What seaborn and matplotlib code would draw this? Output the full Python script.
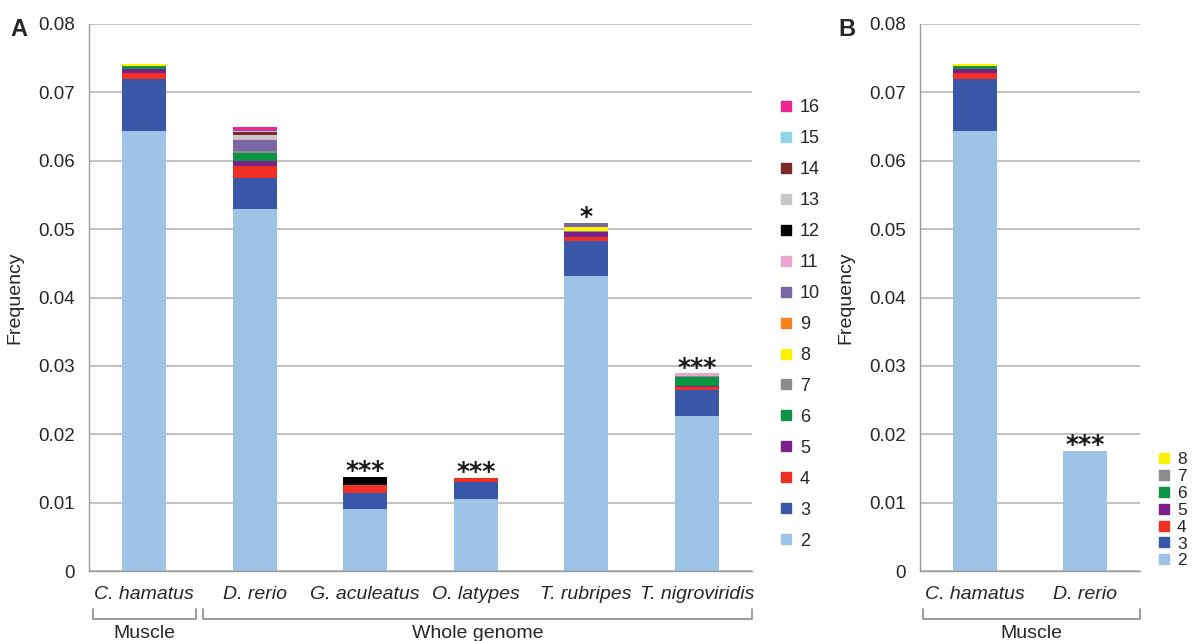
import numpy as np
import pandas as pd
import seaborn as sns
import matplotlib.pyplot as plt
from matplotlib.lines import Line2D
import matplotlib.transforms as mtransforms

# Repeat-length classes (number of repeat units) and their colours
classes = [2, 3, 4, 5, 6, 7, 8, 9, 10, 11, 12, 13, 14, 15, 16]
class_colors = ["#9dc3e6", "#3a56a8", "#ee3124", "#7b1f8a", "#0b9444", "#8c8c8c",
                "#fff200", "#f58220", "#7a67a4", "#e8a6cf", "#000000", "#c8c8c8",
                "#7b2a2a", "#8fd3e8", "#ec268f"]

# Panel A: frequency per class (2..16) for each species
species_a = ["C. hamatus", "D. rerio", "G. aculeatus", "O. latypes",
             "T. rubripes", "T. nigroviridis"]
c_hamatus = [0.0643, 0.0077, 0.0008, 0.0006, 0.0004, 0.0, 0.0004, 0, 0, 0, 0, 0, 0, 0, 0]
d_rerio = [0.0529, 0.0046, 0.0018, 0.0006, 0.0012, 0.0003, 0, 0, 0.0016, 0.0002, 0,
           0.0005, 0.0005, 0.0001, 0.0006]
g_aculeatus = [0.0091, 0.0023, 0.0012, 0, 0, 0, 0, 0, 0, 0, 0.0012, 0, 0, 0, 0]
o_latypes = [0.0105, 0.0025, 0.0006, 0, 0, 0, 0, 0, 0, 0, 0, 0, 0, 0, 0]
t_rubripes = [0.0432, 0.0050, 0.0007, 0.0007, 0, 0.0001, 0.0006, 0, 0.0006, 0, 0, 0, 0, 0, 0]
t_nigroviridis = [0.0227, 0.0038, 0.0004, 0.0001, 0.0013, 0.0002, 0, 0, 0, 0.0004,
                  0, 0, 0, 0, 0]
stars_a = ["", "", "***", "***", "*", "***"]

# Panel B: muscle transcriptomes, classes 2..8
species_b = ["C. hamatus", "D. rerio"]
classes_b = [2, 3, 4, 5, 6, 7, 8]
c_hamatus_muscle = [0.0643, 0.0077, 0.0008, 0.0006, 0.0004, 0.0, 0.0004]
d_rerio_muscle = [0.0175, 0, 0, 0, 0, 0, 0]
stars_b = ["", "***"]

ytick_values = [0, 0.01, 0.02, 0.03, 0.04, 0.05, 0.06, 0.07, 0.08]
ytick_labels = ["0", "0.01", "0.02", "0.03", "0.04", "0.05", "0.06", "0.07", "0.08"]

sns.set_theme(style="white")
plt.rcParams["font.family"] = ["Liberation Sans", "DejaVu Sans"]
TXT = "#262626"


def long_table(species, rows, cls):
    recs = []
    for sp, vals in zip(species, rows):
        cum = np.cumsum(vals)
        for k, c in zip(cls, cum):
            recs.append({"species": sp, "cls": k, "cum": c})
    return pd.DataFrame(recs)


def stacked(ax, df, species, cls, colors):
    # paint tallest cumulative layer first so lower classes overlay it
    for k, col in reversed(list(zip(cls, colors))):
        sub = df[df["cls"] == k]
        sns.barplot(data=sub, x="species", y="cum", order=species, color=col,
                    width=0.4, saturation=1, errorbar=None, ax=ax, linewidth=0)


def style_axis(ax, n):
    ax.set_xlim(-0.5, n - 0.5)
    ax.set_ylim(0, 0.08)
    ax.set_yticks(ytick_values)
    ax.set_yticklabels(ytick_labels)
    ax.yaxis.grid(True, color="#bdbdbd", lw=1.3)
    ax.set_axisbelow(True)
    for s in ["top", "right"]:
        ax.spines[s].set_visible(False)
    ax.spines["left"].set_color("#9a9a9a")
    ax.spines["bottom"].set_color("#9a9a9a")
    ax.spines["left"].set_linewidth(1.0)
    ax.spines["bottom"].set_linewidth(1.0)
    ax.tick_params(axis="y", length=0, pad=10, labelsize=13.5, labelcolor=TXT)
    ax.tick_params(axis="x", which="major", length=0, pad=11, labelsize=14, labelcolor=TXT)
    ax.set_xticks(np.arange(-0.5, n), minor=True)
    ax.tick_params(axis="x", which="minor", length=6, color="#9a9a9a", direction="out")
    for t in ax.get_xticklabels():
        t.set_fontstyle("italic")
    ax.set_xlabel("")
    ax.set_ylabel("Frequency", fontsize=14, color=TXT, labelpad=11)


def bracket(ax, x0, x1, label):
    tr = mtransforms.blended_transform_factory(ax.transData, ax.transAxes)
    yb, yt = -0.088, -0.070
    ax.plot([x0, x0, x1, x1], [yt, yb, yb, yt], color="#8a8a8a", lw=1.2,
            transform=tr, clip_on=False)
    ax.text((x0 + x1) / 2, -0.115, label, transform=tr, ha="center", va="center",
            fontsize=14, color=TXT)


def star_labels(ax, species, rows, stars):
    for i, (vals, s) in enumerate(zip(rows, stars)):
        if s:
            ax.text(i, sum(vals) - 0.0009, s, ha="center", va="bottom",
                    fontsize=18, fontweight="bold", color="#1a1a1a",
                    family="DejaVu Sans")


fig = plt.figure(figsize=(11.93, 6.41), dpi=100)
axA = fig.add_axes([89 / 1193, 1 - 571 / 641, (752 - 89) / 1193, 547 / 641])
axB = fig.add_axes([920 / 1193, 1 - 571 / 641, (1140 - 920) / 1193, 547 / 641])

rows_a = [c_hamatus, d_rerio, g_aculeatus, o_latypes, t_rubripes, t_nigroviridis]
stacked(axA, long_table(species_a, rows_a, classes), species_a, classes, class_colors)
style_axis(axA, len(species_a))
star_labels(axA, species_a, rows_a, stars_a)
bracket(axA, -0.46, 0.47, "Muscle")
bracket(axA, 0.53, 5.5, "Whole genome")

rows_b = [c_hamatus_muscle, d_rerio_muscle]
stacked(axB, long_table(species_b, rows_b, classes_b), species_b, classes_b,
        class_colors[:len(classes_b)])
style_axis(axB, len(species_b))
star_labels(axB, species_b, rows_b, stars_b)
bracket(axB, -0.47, 1.5, "Muscle")


def legend_handles(cls, colors, size):
    hs = [Line2D([], [], marker="s", linestyle="none", markersize=size,
                 markerfacecolor=c, markeredgecolor=c) for c in colors]
    return list(reversed(hs)), [str(k) for k in reversed(cls)]


h, l = legend_handles(classes, class_colors, 7.5)
fig.legend(h, l, loc="lower left", bbox_to_anchor=(772 / 1193, 1 - 557 / 641),
           frameon=False, fontsize=13, handlelength=0.8, handletextpad=0.35,
           labelspacing=0.775, labelcolor=TXT, borderaxespad=0)

# the panel B key sits in a shorter column beside the bars
h, l = legend_handles(classes_b, class_colors[:len(classes_b)], 7)
fig.legend(h, l, loc="upper left", bbox_to_anchor=(1150 / 1193, 1 - 445 / 641),
           frameon=False, fontsize=12.5, handlelength=0.8, handletextpad=0.35,
           labelspacing=0.1, labelcolor=TXT, borderaxespad=0)

fig.text(10 / 1193, 1 - 30 / 641, "A", fontsize=17, fontweight="bold", va="center")
fig.text(838 / 1193, 1 - 30 / 641, "B", fontsize=17, fontweight="bold", va="center")

fig.savefig("out.png", dpi=100)
